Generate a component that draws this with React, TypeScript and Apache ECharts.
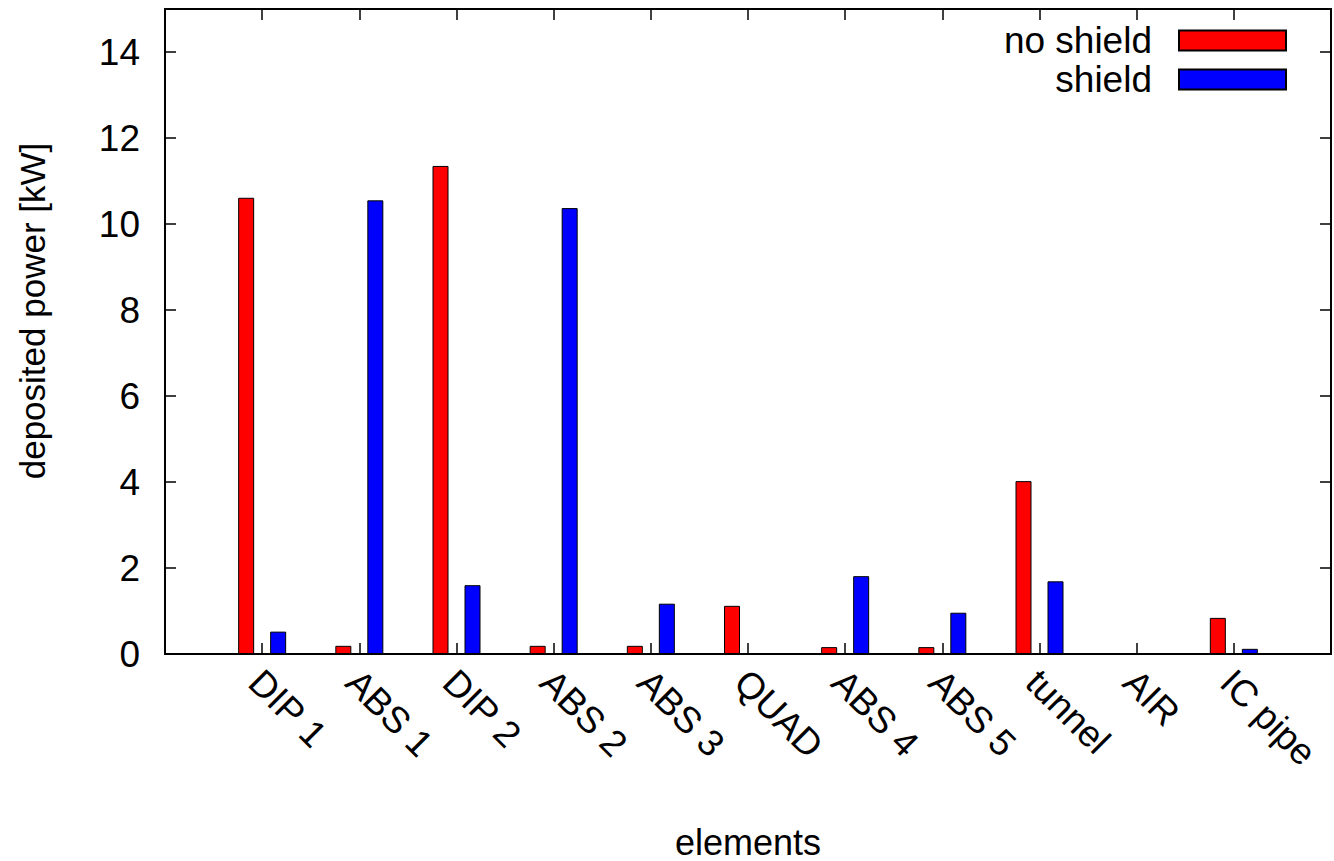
import React, { useEffect, useRef } from "react";
import * as echarts from "echarts";

const categories = ["DIP 1", "ABS 1", "DIP 2", "ABS 2", "ABS 3", "QUAD", "ABS 4", "ABS 5", "tunnel", "AIR", "IC pipe"];
const noShield = [10.61, 0.19, 11.35, 0.19, 0.19, 1.12, 0.16, 0.16, 4.02, 0.02, 0.84];
const shield = [0.52, 10.55, 1.6, 10.37, 1.17, 0.02, 1.81, 0.96, 1.69, 0.01, 0.12];
const seriesNames = ["no shield", "shield"];
const yMin = 0;
const yMax = 15;
const yInterval = 2;

const FONT = "'Liberation Sans', Arial, Helvetica, sans-serif";
const FS = 37;

export default function App() {
  const ref = useRef<HTMLDivElement>(null);
  useEffect(() => {
    if (!ref.current) return;
    const chart = echarts.init(ref.current, undefined, { renderer: "svg", width: 1334, height: 861 });
    const cats = ["", ...categories, ""];
    const pad = (arr: number[]) => [null, ...arr, null];
    const axisLine = { show: true, onZero: false, lineStyle: { color: "#000", width: 2 } };
    const tick = { show: true, inside: true, length: 11, lineStyle: { color: "#000", width: 1.5 } };
    chart.setOption({
      animation: false,
      textStyle: { fontFamily: FONT, color: "#000" },
      grid: { left: 165, right: 3, top: 9, bottom: 207, containLabel: false, outerBoundsMode: "none" },
      legend: {
        orient: "vertical",
        align: "right",
        right: 47,
        top: 22,
        padding: 0,
        itemGap: 2,
        itemWidth: 107,
        itemHeight: 20,
        icon: "rect",
        data: seriesNames,
        textStyle: { fontSize: FS, color: "#000", fontFamily: FONT, padding: [0, 22, 0, 0] },
      },
      xAxis: [
        {
          type: "category",
          data: cats,
          boundaryGap: false,
          position: "bottom",
          axisLine,
          axisTick: { ...tick, interval: 0 },
          splitLine: { show: false },
          axisLabel: {
            interval: 0,
            rotate: -45,
            margin: 15,
            fontSize: FS,
            color: "#000",
            fontFamily: FONT,
            verticalAlign: "top",
            lineHeight: 20,
          },
          name: "elements",
          nameLocation: "middle",
          nameGap: 170,
          nameTextStyle: { fontSize: 36, color: "#000", fontFamily: FONT, lineHeight: 36 },
        },
        {
          type: "category",
          data: cats,
          boundaryGap: false,
          position: "top",
          axisLine,
          axisTick: { ...tick, interval: 0 },
          axisLabel: { show: false },
          splitLine: { show: false },
        },
      ],
      yAxis: [
        {
          type: "value",
          min: yMin,
          max: yMax,
          interval: yInterval,
          position: "left",
          axisLine,
          axisTick: tick,
          splitLine: { show: false },
          axisLabel: { fontSize: FS, color: "#000", fontFamily: FONT, margin: 25, showMaxLabel: false },
        },
        {
          type: "value",
          min: yMin,
          max: yMax,
          interval: yInterval,
          position: "right",
          axisLine,
          axisTick: tick,
          splitLine: { show: false },
          axisLabel: { show: false },
        },
      ],
      graphic: [
        {
          type: "text",
          x: 32,
          y: 311,
          rotation: Math.PI / 2,
          style: {
            text: "deposited power [kW]",
            fontSize: 35,
            fontFamily: FONT,
            fill: "#000",
            align: "center",
            verticalAlign: "middle",
          },
        },
      ],
      series: [
        {
          name: seriesNames[0],
          type: "bar",
          xAxisIndex: 0,
          yAxisIndex: 0,
          data: pad(noShield),
          barWidth: 16,
          barGap: "100%",
          itemStyle: { color: "#ff0000", borderColor: "#000", borderWidth: 1 },
        },
        {
          name: seriesNames[1],
          type: "bar",
          xAxisIndex: 0,
          yAxisIndex: 0,
          data: pad(shield),
          barWidth: 16,
          barGap: "100%",
          itemStyle: { color: "#0000ff", borderColor: "#000", borderWidth: 1 },
        },
      ],
    });
    return () => chart.dispose();
  }, []);
  return <div ref={ref} style={{ position: "fixed", left: 0, top: 0, width: 1334, height: 861, background: "#fff" }} />;
}
